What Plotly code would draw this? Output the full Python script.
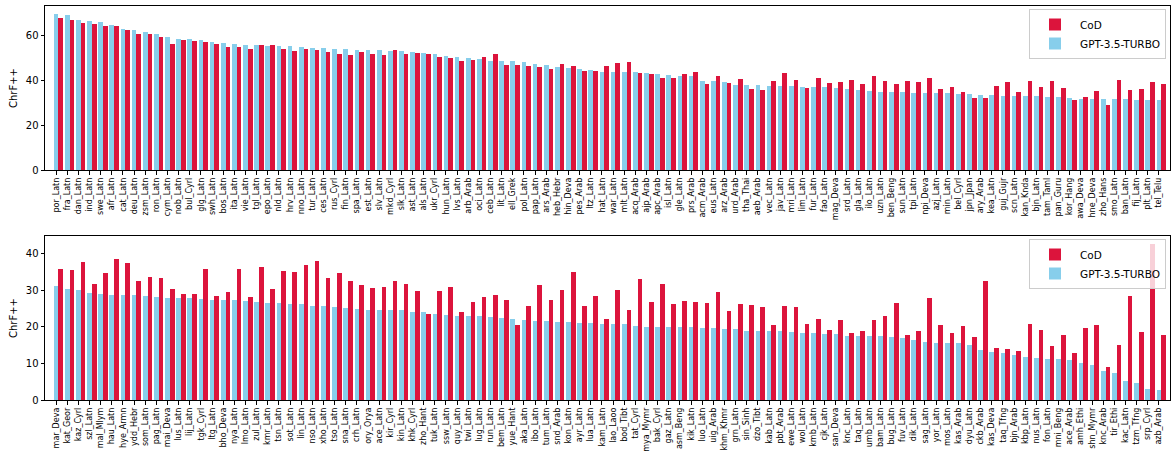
import plotly.graph_objects as go

top_langs = ["por_Latn", "fra_Latn", "dan_Latn", "ind_Latn", "swe_Latn", "afr_Latn", "cat_Latn", "deu_Latn", "zsm_Latn", "ron_Latn",
             "cym_Latn", "nob_Latn", "bul_Cyrl", "glg_Latn", "swh_Latn", "bos_Latn", "ita_Latn", "vie_Latn", "tgl_Latn", "epo_Latn",
             "nld_Latn", "hrv_Latn", "nno_Latn", "tur_Latn", "ces_Latn", "rus_Cyrl", "fin_Latn", "spa_Latn", "est_Latn", "slv_Latn",
             "mkd_Cyrl", "slk_Latn", "ast_Latn", "als_Latn", "ukr_Cyrl", "hun_Latn", "lvs_Latn", "arb_Arab", "oci_Latn", "ceb_Latn",
             "lit_Latn", "ell_Grek", "pol_Latn", "pap_Latn", "ars_Arab", "heb_Hebr", "hin_Deva", "pes_Arab", "ltz_Latn", "hat_Latn",
             "war_Latn", "mlt_Latn", "acq_Arab", "ajp_Arab", "apc_Arab", "isl_Latn", "gle_Latn", "prs_Arab", "acm_Arab", "eus_Latn",
             "arz_Arab", "urd_Arab", "tha_Thai", "aeb_Arab", "vec_Latn", "jav_Latn", "mri_Latn", "lim_Latn", "fur_Latn", "fao_Latn",
             "mag_Deva", "srd_Latn", "gla_Latn", "ilo_Latn", "uzn_Latn", "ben_Beng", "sun_Latn", "tpi_Latn", "npi_Deva", "azj_Latn",
             "min_Latn", "bel_Cyrl", "jpn_Jpan", "ary_Arab", "kea_Latn", "guj_Gujr", "scn_Latn", "kan_Knda", "bjn_Latn", "tam_Taml",
             "pan_Guru", "kor_Hang", "awa_Deva", "hne_Deva", "zho_Hans", "smo_Latn", "ban_Latn", "fij_Latn", "plt_Latn", "tel_Telu"]
top_gpt = [69.9, 69.4, 67.2, 66.7, 66.3, 64.9, 63.1, 62.7, 61.8, 60.9,
           59.6, 58.7, 58.7, 58.2, 57.3, 56.9, 56.4, 56.0, 56.0, 55.5,
           55.5, 55.5, 55.1, 54.6, 54.6, 54.2, 54.2, 53.7, 53.7, 53.7,
           53.3, 53.3, 52.8, 52.4, 51.9, 51.0, 50.6, 50.1, 49.7, 48.8,
           48.8, 48.8, 48.4, 47.5, 47.0, 46.1, 45.7, 45.2, 44.8, 43.9,
           43.9, 43.9, 43.9, 43.4, 43.0, 42.5, 42.1, 42.1, 39.9, 39.9,
           39.4, 38.1, 38.1, 38.1, 37.6, 37.6, 37.6, 37.2, 37.2, 37.2,
           36.7, 36.3, 35.8, 35.4, 34.9, 34.9, 34.9, 34.5, 34.5, 34.5,
           34.5, 34.0, 34.0, 33.6, 33.6, 33.1, 33.1, 33.1, 33.1, 32.7,
           32.7, 32.2, 31.8, 31.8, 31.8, 31.8, 31.8, 31.3, 31.3, 31.3]
top_cod = [68.1, 67.2, 65.8, 65.4, 64.5, 64.5, 62.7, 60.9, 60.9, 59.6,
           56.4, 58.2, 57.8, 57.3, 56.4, 55.1, 55.1, 54.2, 56.0, 56.0,
           54.2, 53.3, 54.2, 53.7, 52.8, 51.9, 51.5, 52.8, 51.9, 51.5,
           53.7, 51.9, 52.4, 51.9, 50.6, 50.1, 48.8, 49.3, 50.6, 51.9,
           47.0, 47.0, 46.6, 46.1, 45.2, 47.5, 46.6, 44.3, 44.3, 46.6,
           47.9, 48.4, 43.4, 43.0, 41.2, 41.2, 43.0, 43.9, 38.5, 42.1,
           39.0, 40.7, 36.3, 35.8, 39.9, 43.4, 40.3, 36.7, 41.2, 39.0,
           39.4, 40.3, 38.5, 42.1, 39.9, 38.5, 39.9, 39.4, 41.2, 36.3,
           37.2, 34.9, 32.2, 32.2, 37.6, 39.4, 34.9, 39.9, 37.2, 39.9,
           36.7, 31.3, 32.7, 35.4, 29.1, 40.3, 35.8, 36.3, 39.4, 38.5]

bot_langs = ["mar_Deva", "kat_Geor", "kaz_Cyrl", "szl_Latn", "mal_Mlym", "hau_Latn", "hye_Armn", "ydd_Hebr", "som_Latn", "pag_Latn",
             "mai_Deva", "lus_Latn", "lij_Latn", "tgk_Cyrl", "ltg_Latn", "bho_Deva", "nya_Latn", "lmo_Latn", "zul_Latn", "kmr_Latn",
             "tsn_Latn", "sot_Latn", "lin_Latn", "nso_Latn", "xho_Latn", "tso_Latn", "sna_Latn", "crh_Latn", "ory_Orya", "ace_Latn",
             "kir_Cyrl", "kin_Latn", "khk_Cyrl", "zho_Hant", "tuk_Latn", "ssw_Latn", "quy_Latn", "twi_Latn", "lug_Latn", "run_Latn",
             "bem_Latn", "yue_Hant", "aka_Latn", "ibo_Latn", "tum_Latn", "snd_Arab", "kon_Latn", "ayr_Latn", "lua_Latn", "kam_Latn",
             "lao_Laoo", "bod_Tibt", "tat_Cyrl", "mya_Mymr", "bak_Cyrl", "gaz_Latn", "asm_Beng", "kik_Latn", "luo_Latn", "uig_Arab",
             "khm_Khmr", "grn_Latn", "sin_Sinh", "dzo_Tibt", "kab_Latn", "pbt_Arab", "ewe_Latn", "wol_Latn", "kmb_Latn", "cjk_Latn",
             "san_Deva", "knc_Latn", "taq_Latn", "umb_Latn", "bam_Latn", "bug_Latn", "fuv_Latn", "dik_Latn", "sag_Latn", "yor_Latn",
             "mos_Latn", "kas_Arab", "dyu_Latn", "ckb_Arab", "kas_Deva", "taq_Tfng", "bjn_Arab", "kbp_Latn", "nus_Latn", "fon_Latn",
             "mni_Beng", "ace_Arab", "amh_Ethi", "shn_Mymr", "knc_Arab", "tir_Ethi", "kac_Latn", "tzm_Tfng", "srp_Cyrl", "azb_Arab"]
bot_gpt = [31.2, 30.4, 30.1, 29.3, 29.0, 28.7, 28.7, 28.7, 28.4, 28.2,
           27.9, 27.9, 27.9, 27.6, 27.3, 27.3, 27.3, 27.0, 26.8, 26.5,
           26.5, 26.2, 26.2, 25.7, 25.7, 25.4, 25.1, 24.8, 24.6, 24.6,
           24.6, 24.6, 24.1, 24.1, 23.5, 23.2, 23.0, 23.0, 22.9, 22.7,
           22.4, 22.1, 21.8, 21.6, 21.6, 21.3, 21.3, 21.1, 21.1, 20.8,
           20.8, 20.8, 20.3, 20.0, 20.0, 20.0, 20.0, 20.0, 19.7, 19.7,
           19.4, 19.4, 18.9, 18.9, 18.9, 18.9, 18.6, 18.3, 18.3, 18.1,
           18.1, 17.5, 17.5, 17.5, 17.5, 17.2, 17.0, 16.4, 15.9, 15.6,
           15.6, 15.6, 15.0, 13.7, 13.1, 12.8, 12.3, 11.7, 11.5, 11.2,
           11.2, 10.9, 10.1, 9.5, 7.9, 7.3, 5.1, 4.6, 2.9, 2.7]
bot_cod = [36.0, 35.7, 37.9, 31.8, 34.9, 38.7, 37.6, 32.7, 33.8, 33.5,
           30.5, 29.1, 29.1, 36.0, 28.4, 29.6, 36.0, 28.2, 36.5, 30.4,
           35.4, 35.1, 37.0, 38.1, 33.4, 34.8, 32.6, 31.5, 30.6, 31.0,
           32.6, 31.8, 29.9, 23.5, 29.9, 31.0, 24.1, 26.8, 28.2, 28.7,
           27.3, 20.5, 25.7, 31.5, 27.4, 30.1, 35.1, 25.8, 28.5, 22.2,
           30.2, 24.7, 33.2, 26.9, 31.8, 26.3, 27.2, 26.9, 26.6, 29.6,
           24.4, 26.3, 26.1, 25.5, 20.6, 25.8, 25.5, 20.8, 22.2, 19.2,
           21.9, 18.3, 18.9, 21.9, 23.0, 26.6, 17.8, 18.9, 28.0, 20.6,
           18.3, 20.3, 17.2, 32.7, 14.2, 13.9, 13.4, 20.8, 19.2, 14.8,
           17.8, 12.8, 19.7, 20.6, 9.0, 15.0, 28.5, 18.6, 42.8, 17.8]

COD_COLOR = "#DC143C"
GPT_COLOR = "#87CEEB"
W = 0.42
FONT = "DejaVu Sans"

fig = go.Figure()
panels = [("x", "y", "legend", top_langs, top_cod, top_gpt),
          ("x2", "y2", "legend2", bot_langs, bot_cod, bot_gpt)]
for xa, ya, lg, langs, cod, gpt in panels:
    fig.add_trace(go.Bar(x=langs, y=cod, name="CoD", marker=dict(color=COD_COLOR, line=dict(width=0)),
                         width=W, offset=W / 2, xaxis=xa, yaxis=ya, legend=lg))
    fig.add_trace(go.Bar(x=langs, y=gpt, name="GPT-3.5-TURBO", marker=dict(color=GPT_COLOR, line=dict(width=0)),
                         width=W, offset=-W / 2, xaxis=xa, yaxis=ya, legend=lg))

FW, FH = 1175, 459
xdom = [45 / FW, 1170 / FW]
ydom_top = [1 - 170 / FH, 1 - 6 / FH]
ydom_bot = [1 - 400 / FH, 1 - 236 / FH]

common_x = dict(type="category", range=[-1, 100], tickangle=-90, tickfont=dict(size=8, family=FONT, color="black"),
                showline=True, mirror=True, linecolor="black", linewidth=1, ticks="outside", ticklen=3.5,
                tickwidth=0.8, tickcolor="black", showgrid=False, zeroline=False, automargin=False)
common_y = dict(tickfont=dict(size=10, family=FONT, color="black"), showline=True, mirror=True, linecolor="black",
                linewidth=1, ticks="outside", ticklen=3.5, tickwidth=0.8, tickcolor="black", showgrid=False,
                zeroline=False, automargin=False,
                title=dict(text="ChrF++", font=dict(size=10, family=FONT, color="black"), standoff=6))

legend_common = dict(xanchor="right", yanchor="top", bgcolor="rgba(255,255,255,0.8)", bordercolor="#cccccc",
                     borderwidth=1, font=dict(size=10.5, family=FONT, color="black"), tracegroupgap=0,
                     itemwidth=40)

fig.update_layout(
    width=FW, height=FH,
    margin=dict(l=0, r=0, t=0, b=0, autoexpand=False),
    paper_bgcolor="white", plot_bgcolor="white",
    barmode="overlay", bargap=0,
    xaxis=dict(domain=xdom, anchor="y", **common_x),
    yaxis=dict(domain=ydom_top, anchor="x", range=[0, 73.3], tickvals=[0, 20, 40, 60], **common_y),
    xaxis2=dict(domain=xdom, anchor="y2", **common_x),
    yaxis2=dict(domain=ydom_bot, anchor="x2", range=[0, 44.9], tickvals=[0, 10, 20, 30, 40], **common_y),
    legend=dict(x=1166 / FW, y=1 - 9 / FH, **legend_common),
    legend2=dict(x=1166 / FW, y=1 - 239 / FH, **legend_common),
)

fig.write_html("out.html", config={"displayModeBar": False},
               post_script="document.body.style.margin='0px';document.body.style.overflow='hidden';")
